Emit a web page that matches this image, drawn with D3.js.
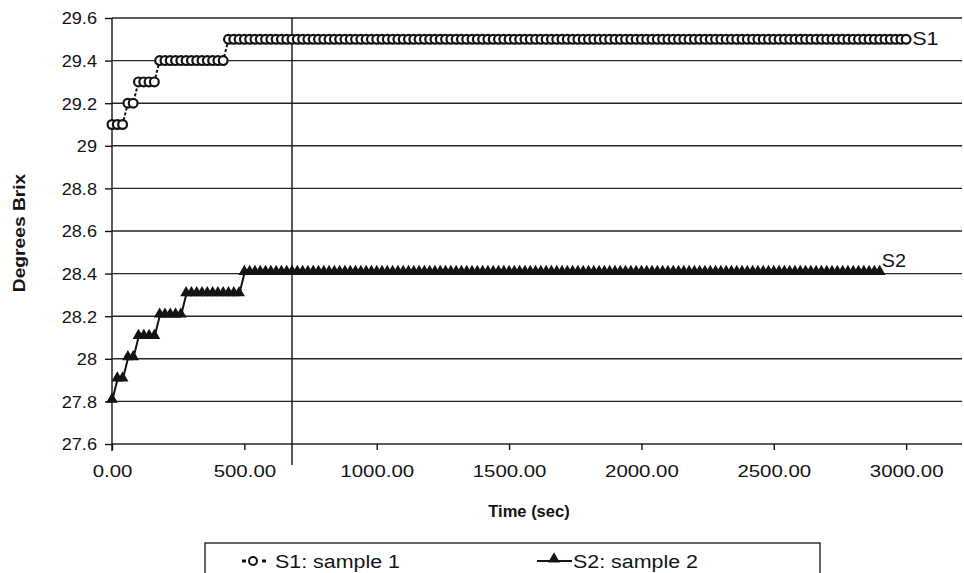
<!DOCTYPE html>
<html>
<head>
<meta charset="utf-8">
<script src="https://cdn.jsdelivr.net/npm/d3@7"></script>
<style>
  html, body { margin: 0; padding: 0; background: #fff; }
  svg { display: block; font-family: "Liberation Sans", Arial, sans-serif; }
</style>
</head>
<body>
<svg id="chart" width="964" height="573"></svg>
<script>
// ---- data ----
const times = [
  0,20,40,60,80,100,120,140,160,180,
  200,220,240,260,280,300,320,340,360,380,
  400,420,440,460,480,500,520,540,560,580,
  600,620,640,660,680,700,720,740,760,780,
  800,820,840,860,880,900,920,940,960,980,
  1000,1020,1040,1060,1080,1100,1120,1140,1160,1180,
  1200,1220,1240,1260,1280,1300,1320,1340,1360,1380,
  1400,1420,1440,1460,1480,1500,1520,1540,1560,1580,
  1600,1620,1640,1660,1680,1700,1720,1740,1760,1780,
  1800,1820,1840,1860,1880,1900,1920,1940,1960,1980,
  2000,2020,2040,2060,2080,2100,2120,2140,2160,2180,
  2200,2220,2240,2260,2280,2300,2320,2340,2360,2380,
  2400,2420,2440,2460,2480,2500,2520,2540,2560,2580,
  2600,2620,2640,2660,2680,2700,2720,2740,2760,2780,
  2800,2820,2840,2860,2880,2900,2920,2940,2960,2980,
  3000
];
const s1Values = [
  29.1,29.1,29.1,29.2,29.2,29.3,29.3,29.3,29.3,29.4,
  29.4,29.4,29.4,29.4,29.4,29.4,29.4,29.4,29.4,29.4,
  29.4,29.4,29.5,29.5,29.5,29.5,29.5,29.5,29.5,29.5,
  29.5,29.5,29.5,29.5,29.5,29.5,29.5,29.5,29.5,29.5,
  29.5,29.5,29.5,29.5,29.5,29.5,29.5,29.5,29.5,29.5,
  29.5,29.5,29.5,29.5,29.5,29.5,29.5,29.5,29.5,29.5,
  29.5,29.5,29.5,29.5,29.5,29.5,29.5,29.5,29.5,29.5,
  29.5,29.5,29.5,29.5,29.5,29.5,29.5,29.5,29.5,29.5,
  29.5,29.5,29.5,29.5,29.5,29.5,29.5,29.5,29.5,29.5,
  29.5,29.5,29.5,29.5,29.5,29.5,29.5,29.5,29.5,29.5,
  29.5,29.5,29.5,29.5,29.5,29.5,29.5,29.5,29.5,29.5,
  29.5,29.5,29.5,29.5,29.5,29.5,29.5,29.5,29.5,29.5,
  29.5,29.5,29.5,29.5,29.5,29.5,29.5,29.5,29.5,29.5,
  29.5,29.5,29.5,29.5,29.5,29.5,29.5,29.5,29.5,29.5,
  29.5,29.5,29.5,29.5,29.5,29.5,29.5,29.5,29.5,29.5,
  29.5
];
const s2Values = [
  27.8,27.9,27.9,28.0,28.0,28.1,28.1,28.1,28.1,28.2,
  28.2,28.2,28.2,28.2,28.3,28.3,28.3,28.3,28.3,28.3,
  28.3,28.3,28.3,28.3,28.3,28.4,28.4,28.4,28.4,28.4,
  28.4,28.4,28.4,28.4,28.4,28.4,28.4,28.4,28.4,28.4,
  28.4,28.4,28.4,28.4,28.4,28.4,28.4,28.4,28.4,28.4,
  28.4,28.4,28.4,28.4,28.4,28.4,28.4,28.4,28.4,28.4,
  28.4,28.4,28.4,28.4,28.4,28.4,28.4,28.4,28.4,28.4,
  28.4,28.4,28.4,28.4,28.4,28.4,28.4,28.4,28.4,28.4,
  28.4,28.4,28.4,28.4,28.4,28.4,28.4,28.4,28.4,28.4,
  28.4,28.4,28.4,28.4,28.4,28.4,28.4,28.4,28.4,28.4,
  28.4,28.4,28.4,28.4,28.4,28.4,28.4,28.4,28.4,28.4,
  28.4,28.4,28.4,28.4,28.4,28.4,28.4,28.4,28.4,28.4,
  28.4,28.4,28.4,28.4,28.4,28.4,28.4,28.4,28.4,28.4,
  28.4,28.4,28.4,28.4,28.4,28.4,28.4,28.4,28.4,28.4,
  28.4,28.4,28.4,28.4,28.4,28.4
];
const seriesNames = ["S1: sample 1", "S2: sample 2"];
const seriesTags = ["S1", "S2"];
const xTicks = [0, 500, 1000, 1500, 2000, 2500, 3000];
const yTicks = [27.6, 27.8, 28, 28.2, 28.4, 28.6, 28.8, 29, 29.2, 29.4, 29.6];
const markerTime = 680;   // vertical reference line
const xTitle = "Time (sec)";
const yTitle = "Degrees Brix";

(function () {
// ---- layout ----
const svg = d3.select("#chart");
const pL = 112, pR = 962, pT = 18, pB = 444;
const x = d3.scaleLinear().domain([0, 3211]).range([pL, pR]);
const y = d3.scaleLinear().domain([27.6, 29.6]).range([pB, pT]);
const ink = "#141414";
const font = "Liberation Sans, Arial, sans-serif";

// widen text horizontally by a factor (scanned original uses wide glyphs)
function widen(sel, k) {
  sel.each(function () {
    const w = this.getComputedTextLength();
    d3.select(this).attr("textLength", w * k).attr("lengthAdjust", "spacingAndGlyphs");
  });
}

// gridlines
svg.append("g").selectAll("line").data(yTicks).join("line")
  .attr("x1", pL).attr("x2", pR)
  .attr("y1", d => y(d)).attr("y2", d => y(d))
  .attr("stroke", "#262626").attr("stroke-width", 1.4);

// y axis
const yAxis = svg.append("g").attr("transform", `translate(${pL},0)`)
  .call(d3.axisLeft(y).tickValues(yTicks).tickSize(7).tickPadding(8)
    .tickFormat(d => d3.format("~g")(d)));
yAxis.select(".domain").attr("stroke", ink).attr("stroke-width", 1.4).attr("d", `M0,${pT}V${pB + 7}`);
yAxis.selectAll(".tick line").attr("stroke", ink).attr("stroke-width", 1.4);
yAxis.selectAll("text").attr("fill", ink).attr("font-size", 16.5).attr("font-family", font)
  .attr("dy", "0.36em");
yAxis.selectAll("text").call(widen, 1.1);

// x axis
const xAxis = svg.append("g").attr("transform", `translate(0,${pB})`)
  .call(d3.axisBottom(x).tickValues(xTicks).tickSize(6).tickPadding(15)
    .tickFormat(d3.format(".2f")));
xAxis.select(".domain").remove();
xAxis.selectAll(".tick line").attr("stroke", ink).attr("stroke-width", 1.4);
xAxis.selectAll("text").attr("fill", ink).attr("font-size", 17).attr("font-family", font);
xAxis.selectAll("text").call(widen, 1.2);

// vertical reference line
svg.append("line")
  .attr("x1", x(markerTime)).attr("x2", x(markerTime))
  .attr("y1", pT).attr("y2", pB + 21)
  .attr("stroke", ink).attr("stroke-width", 1.4);

// series
const s1 = times.map((t, i) => ({ t, v: s1Values[i] }));
const s2 = s2Values.map((v, i) => ({ t: times[i], v }));
const line = d3.line().x(d => x(d.t)).y(d => y(d.v));

svg.append("path").datum(s1).attr("d", line)
  .attr("fill", "none").attr("stroke", ink).attr("stroke-width", 2)
  .attr("stroke-dasharray", "3,2");
svg.append("g").selectAll("circle").data(s1).join("circle")
  .attr("cx", d => x(d.t)).attr("cy", d => y(d.v)).attr("r", 4.4)
  .attr("fill", "#fff").attr("stroke", ink).attr("stroke-width", 2.2);

svg.append("path").datum(s2).attr("d", line)
  .attr("fill", "none").attr("stroke", ink).attr("stroke-width", 2);
const tri = d3.symbol().type(d3.symbolTriangle).size(60);
svg.append("g").selectAll("path").data(s2).join("path")
  .attr("d", tri)
  .attr("transform", d => `translate(${x(d.t)},${y(d.v) - 2})`)
  .attr("fill", ink);

// end labels
const last1 = s1[s1.length - 1], last2 = s2[s2.length - 1];
svg.append("text").attr("x", x(last1.t) + 6).attr("y", y(last1.v) + 6)
  .attr("font-size", 18).attr("fill", ink).text(seriesTags[0]).call(widen, 1.2);
svg.append("text").attr("x", x(last2.t) + 2).attr("y", y(last2.v) - 7)
  .attr("font-size", 18).attr("fill", ink).text(seriesTags[1]).call(widen, 1.1);

// axis titles
svg.append("text").attr("x", 529).attr("y", 517)
  .attr("text-anchor", "middle").attr("font-weight", "bold").attr("font-size", 16.5)
  .attr("fill", ink).text(xTitle).call(widen, 1.0);
svg.append("text").attr("transform", `translate(25,233) rotate(-90)`)
  .attr("text-anchor", "middle").attr("font-weight", "bold").attr("font-size", 16)
  .attr("fill", ink).text(yTitle).call(widen, 1.2);

// legend
const lg = svg.append("g");
lg.append("rect").attr("x", 205).attr("y", 543).attr("width", 615).attr("height", 45)
  .attr("fill", "#fff").attr("stroke", ink).attr("stroke-width", 1.3);
const ly = 561;
lg.append("line").attr("x1", 242).attr("x2", 266).attr("y1", ly).attr("y2", ly)
  .attr("stroke", ink).attr("stroke-width", 3).attr("stroke-dasharray", "4,6");
lg.append("circle").attr("cx", 253).attr("cy", ly).attr("r", 4)
  .attr("fill", "#fff").attr("stroke", ink).attr("stroke-width", 2);
lg.append("text").attr("x", 275).attr("y", ly + 7).attr("font-size", 18).attr("fill", ink)
  .text(seriesNames[0]).call(widen, 1.19);
lg.append("line").attr("x1", 537).attr("x2", 572).attr("y1", ly).attr("y2", ly)
  .attr("stroke", ink).attr("stroke-width", 1.8);
lg.append("path").attr("d", tri).attr("transform", `translate(554,${ly - 2})`).attr("fill", ink);
lg.append("text").attr("x", 573).attr("y", ly + 7).attr("font-size", 18).attr("fill", ink)
  .text(seriesNames[1]).call(widen, 1.19);
})();
</script>
</body>
</html>
